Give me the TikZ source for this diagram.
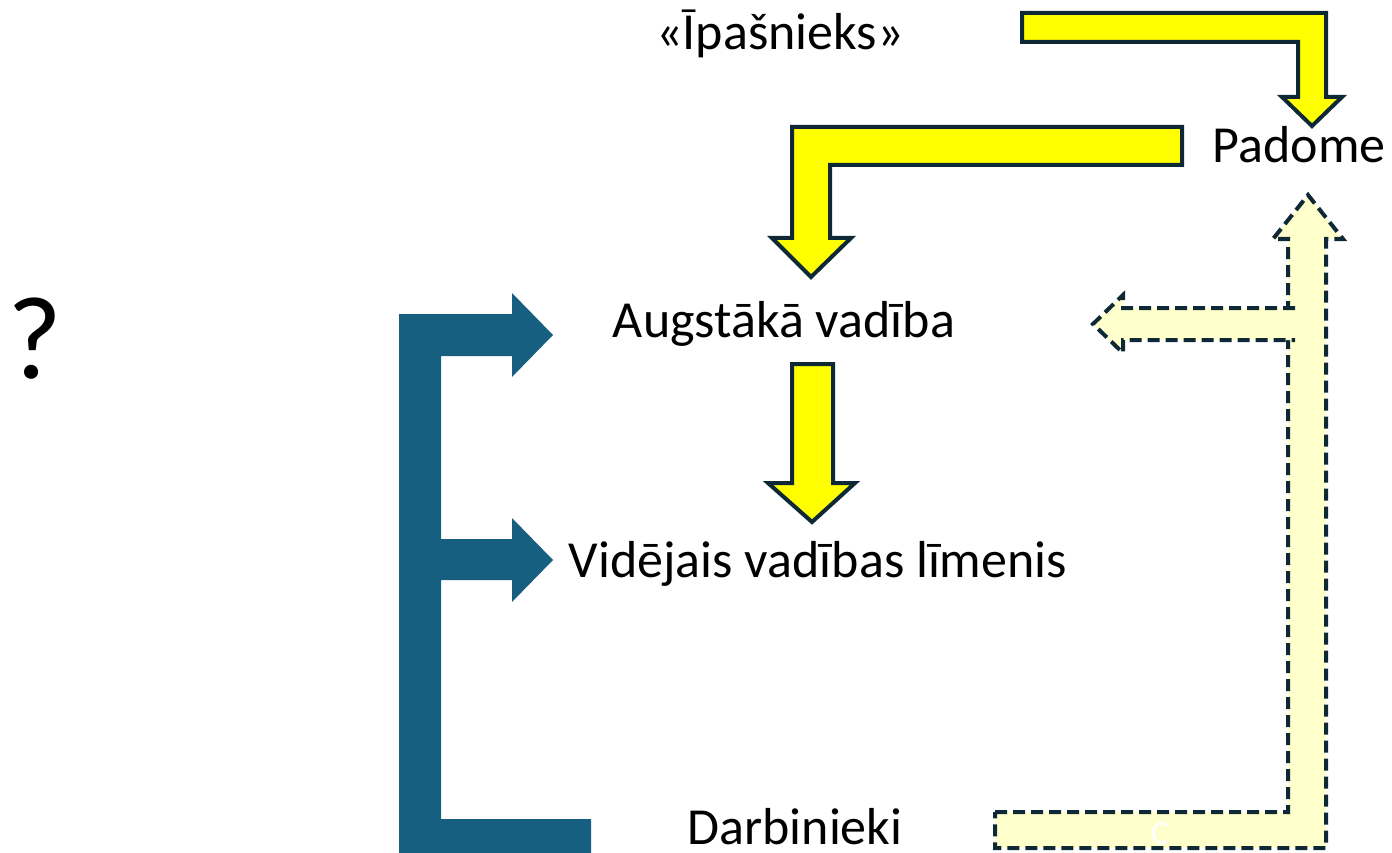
\documentclass[tikz,border=0pt]{standalone}
\usepackage{fontspec}
\setmainfont{Carlito}
\definecolor{outl}{RGB}{14,40,54}
\definecolor{blk}{RGB}{23,95,128}
\definecolor{paley}{RGB}{255,255,204}
\definecolor{yfill}{RGB}{255,255,0}
\tikzset{
  lbl/.style={inner sep=0pt, anchor=base, font=\fontsize{52}{60}\selectfont},
  yarrow/.style={fill=yfill, draw=outl, line width=4pt, line join=miter},
  parrow/.style={fill=paley, draw=outl, line width=4pt, dash pattern=on 12pt off 6pt},
  barrow/.style={fill=blk, draw=none}
}
\begin{document}
\begin{tikzpicture}[x=1pt,y=-1pt]
\useasboundingbox (0,0) rectangle (1392,853);
% blue bracket arrows
\fill[barrow] (399,314) -- (512,314) -- (512,293) -- (553,335) -- (512,377) -- (512,356)
  -- (441,356) -- (441,539) -- (512,539) -- (512,518) -- (553,560) -- (512,602) -- (512,580)
  -- (441,580) -- (441,819) -- (591,819) -- (591,860) -- (399,860) -- cycle;
% yellow arrows
\draw[yarrow] (1022,13) -- (1326,13) -- (1326,97) -- (1342,97) -- (1312,126) -- (1282,97)
  -- (1298,97) -- (1298,42) -- (1022,42) -- cycle;
\draw[yarrow] (792,127) -- (1182,127) -- (1182,165) -- (830,165) -- (830,238) -- (851,238)
  -- (811,277) -- (772,238) -- (792,238) -- cycle;
\draw[yarrow] (792,364) -- (833,364) -- (833,483) -- (855,483) -- (812,522) -- (768,483)
  -- (792,483) -- cycle;
% pale dashed arrows
\draw[parrow] (995,812) -- (1288,812) -- (1288,239) -- (1273,239) -- (1308,195) -- (1343,239)
  -- (1326,239) -- (1326,848) -- (995,848) -- cycle;
\draw[parrow] (1295,308) -- (1123,308) -- (1123,295) -- (1093,324) -- (1123,353) -- (1123,340)
  -- (1295,340);
\fill[paley] (1291,311) rectangle (1322,337);
% labels
\node[lbl] (own) at (780,50) {«Īpašnieks»};
\node[lbl] (pad) at (1299,163) {Padome};
\node[lbl] (aug) at (784,337) {Augstākā vadība};
\node[lbl] (vid) at (818,577) {Vidējais vadības līmenis};
\node[lbl] (darb) at (795,844) {Darbinieki};
\node[inner sep=0pt, anchor=base, font=\fontsize{118}{130}\selectfont] (q) at (35,378) {?};
\node[inner sep=0pt, anchor=base, text=white, font=\fontsize{34}{40}\selectfont] (c) at (1160,844) {C};
\end{tikzpicture}
\end{document}
